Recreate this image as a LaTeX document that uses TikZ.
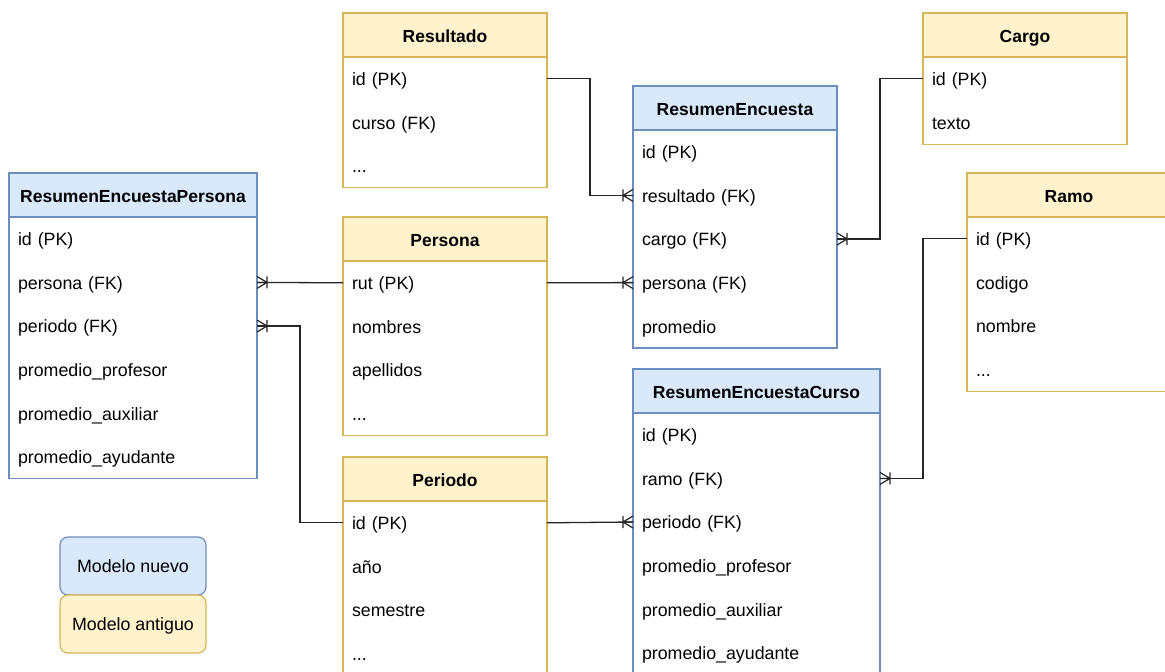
\documentclass[tikz,border=0pt]{standalone}
\usepackage{fontspec}
\setmainfont{Liberation Sans}
\definecolor{bluefill}{HTML}{DAE8FC}
\definecolor{blueline}{HTML}{6C8EBF}
\definecolor{yellowfill}{HTML}{FFF2CC}
\definecolor{yellowline}{HTML}{D6B656}
\newcommand{\threedots}{...}
\tikzset{
  hdr/.style={draw=#1line, fill=#1fill, line width=1.2pt, minimum height=44pt, inner sep=0pt, outer sep=0pt,
    text height=14pt, text depth=0pt, font=\fontsize{17.5}{21}\selectfont\bfseries},
  rowtext/.style={minimum height=43.6pt, inner xsep=9pt, inner ysep=0pt, outer sep=0pt, align=left,
    text height=13.8pt, text depth=0pt, font=\fontsize{17.8}{21}\selectfont},
  conn/.style={line width=1.3pt, draw=black!85},
  crowfoot/.pic={\draw[line width=1.2pt, draw=black!85] (-10,0)--(0,6) (-10,0)--(0,-6) (-10,6)--(-10,-6) (-10,0)--(0,0);},
  legendbox/.style={rounded corners=8pt, line width=1.2pt, minimum width=146pt, minimum height=58pt,
    inner sep=0pt, text height=13.8pt, text depth=0pt, font=\fontsize{17.8}{21}\selectfont}
}
% name, x, y, width, kind, title, number of rows, rows
\newcommand{\ertable}[8]{%
  \pgfmathsetmacro{\ertw}{#4-18}%
  \draw[draw=#5line, fill=white, line width=1.2pt] (#2,#3) rectangle ++(#4,44+#7*43.6);
  \node[hdr=#5, minimum width=#4pt, anchor=north west] (#1) at (#2,#3) {#6};
  \foreach \t [count=\i] in {#8}
    \node[rowtext, text width=\ertw pt, anchor=north west] (#1-\i) at (#2,#3+44+\i*43.6-43.6) {\t};
}
\begin{document}
\begin{tikzpicture}[x=1pt,y=-1pt]
\fill[white] (0,0) rectangle (1165,672);
\useasboundingbox (0,0) rectangle (1165,672);

\ertable{res}{343}{13}{204}{yellow}{Resultado}{3}{id (PK),curso (FK),\threedots}
\ertable{cargo}{923}{13}{204}{yellow}{Cargo}{2}{id (PK),texto}
\ertable{re}{633}{86}{204}{blue}{ResumenEncuesta}{5}{id (PK),resultado (FK),cargo (FK),persona (FK),promedio}
\ertable{rep}{9}{173}{248}{blue}{ResumenEncuestaPersona}{6}{id (PK),persona (FK),periodo (FK),promedio\_profesor,promedio\_auxiliar,promedio\_ayudante}
\ertable{per}{343}{217}{204}{yellow}{Persona}{4}{rut (PK),nombres,apellidos,\threedots}
\ertable{ramo}{967}{173}{204}{yellow}{Ramo}{4}{id (PK),codigo,nombre,\threedots}
\ertable{rec}{633}{369}{247}{blue}{ResumenEncuestaCurso}{6}{id (PK),ramo (FK),periodo (FK),promedio\_profesor,promedio\_auxiliar,promedio\_ayudante}
\ertable{peri}{343}{457}{204}{yellow}{Periodo}{4}{id (PK),año,semestre,\threedots}

% connectors
\draw[conn] (res-1.east) -- ++(43,0) |- (re-2.west);
\pic at (re-2.west) {crowfoot};
\draw[conn] (cargo-1.west) -- ++(-43,0) |- (re-3.east);
\pic[rotate=180] at (re-3.east) {crowfoot};
\draw[conn] (per-1.west) -- (rep-2.east);
\pic[rotate=180] at (rep-2.east) {crowfoot};
\draw[conn] (per-1.east) -- (re-4.west);
\pic at (re-4.west) {crowfoot};
\draw[conn] (peri-1.west) -- ++(-43,0) |- (rep-3.east);
\pic[rotate=180] at (rep-3.east) {crowfoot};
\draw[conn] (peri-1.east) -- (rec-3.west);
\pic at (rec-3.west) {crowfoot};
\draw[conn] (ramo-1.west) -- ++(-44,0) |- (rec-2.east);
\pic[rotate=180] at (rec-2.east) {crowfoot};

% legend
\node[legendbox, fill=bluefill, draw=blueline] (lnew) at (133,566) {Modelo nuevo};
\node[legendbox, fill=yellowfill, draw=yellowline] (lold) at (133,624) {Modelo antiguo};
\end{tikzpicture}
\end{document}
